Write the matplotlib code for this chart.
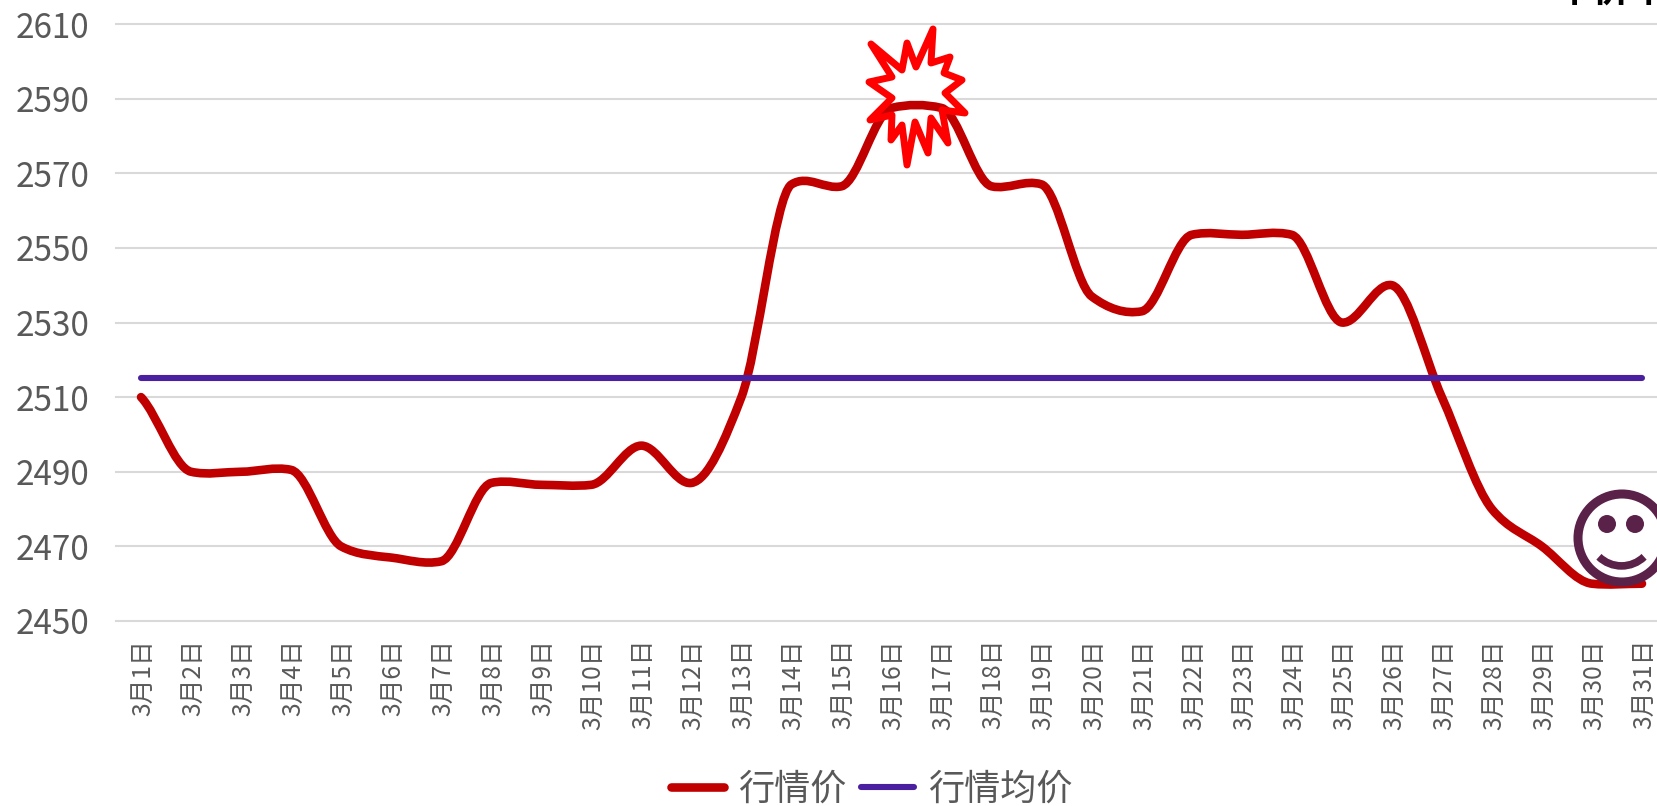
import numpy as np
import matplotlib
matplotlib.use('Agg')
import matplotlib.pyplot as plt
from matplotlib.path import Path
from matplotlib.patches import PathPatch, Polygon, Circle, Arc
from matplotlib.lines import Line2D
from matplotlib.transforms import ScaledTranslation

plt.rcParams['font.family'] = ['Noto Sans CJK SC', 'DejaVu Sans']

W, H = 1658, 806

days = ['3月%d日' % d for d in range(1, 32)]
price = [2510, 2490, 2490, 2490.5, 2470, 2467, 2466, 2487, 2486.5, 2486.5,
         2497, 2487, 2510, 2567, 2566.5, 2587.5, 2587.5, 2566.5, 2567, 2537,
         2533, 2553.5, 2553.5, 2553.5, 2530, 2540, 2510, 2480, 2470, 2460,
         2460]
mean_price = [2515] * 31
y_ticks = [2450, 2470, 2490, 2510, 2530, 2550, 2570, 2590, 2610]

# 手绘的爆炸形状 (像素坐标)
star_x = [871, 902, 907, 916, 933, 931, 950, 944, 962, 945, 965, 942, 948,
          931, 928, 915, 907, 902, 891, 892, 870, 892, 869, 892]
star_y = [44, 70, 43, 67, 29, 63, 57, 73, 80, 93, 113, 110, 143,
          118, 153, 122, 165, 125, 140, 115, 120, 98, 82, 77]

RED = '#C00000'
PURPLE = '#4B20A0'
GREY = '#595959'
PLUM = '#5A2149'


def px(x, y):
    return x / W, 1 - y / H


def smooth_path(xs, ys, blend=0.3):
    # 曲线平滑: 切线取 Catmull-Rom 与调和平均的混合, 平台段不会过冲
    pts = np.column_stack([xs, ys])
    d = np.diff(pts[:, 1])
    n = len(pts)
    m = np.zeros(n)
    m[0] = d[0] * 0.7
    m[-1] = d[-1] * 0.7
    for i in range(1, n - 1):
        harm = 0.0
        if d[i - 1] * d[i] > 0:
            harm = 2 * d[i - 1] * d[i] / (d[i - 1] + d[i])
        m[i] = blend * (d[i - 1] + d[i]) / 2 + (1 - blend) * harm
    verts = [pts[0]]
    codes = [Path.MOVETO]
    for i in range(n - 1):
        p1 = pts[i]
        p2 = pts[i + 1]
        verts += [p1 + [1 / 3, m[i] / 3], p2 - [1 / 3, m[i + 1] / 3], p2]
        codes += [Path.CURVE4] * 3
    return Path(verts, codes)


fig = plt.figure(figsize=(W / 100, H / 100), dpi=100)
left, bottom = px(116, 621)
right, top = px(1667, 24)
ax = fig.add_axes([left, bottom, right - left, top - bottom])

x = np.arange(len(days))
ax.set_xlim(-0.5, 30.5)
ax.set_ylim(2450, 2610)

for name in ax.spines:
    ax.spines[name].set_visible(False)

ax.set_yticks(y_ticks)
ax.set_xticks(x)
ax.set_xticklabels(days, rotation=90, fontsize=17.8, color=GREY, ha='center', va='top')
ax.tick_params(axis='x', length=0, pad=13)
ax.tick_params(axis='y', length=0, pad=19, labelsize=24, labelcolor=GREY)
nudge = ScaledTranslation(1.5 / 72, 0, fig.dpi_scale_trans)
for lab in ax.get_xticklabels():
    lab.set_transform(lab.get_transform() + nudge)
ax.grid(axis='y', color='#D9D9D9', linewidth=1.5, zorder=1)
ax.set_axisbelow(True)
for gl in ax.get_ygridlines():
    gl.set_clip_on(False)

fig_tf = fig.transFigure
star_pts = [px(a, b) for a, b in zip(star_x, star_y)]
ax.add_patch(Polygon(star_pts, closed=True, facecolor='white', edgecolor='none',
                     transform=fig_tf, zorder=3))

ax.add_patch(PathPatch(smooth_path(x, price), facecolor='none', edgecolor=RED,
                       linewidth=6.2, capstyle='round', joinstyle='round', zorder=4))
ax.plot(x, mean_price, color=PURPLE, linewidth=4.4, solid_capstyle='round', zorder=5)

ax.add_patch(Polygon(star_pts, closed=True, facecolor='none', edgecolor='#FF0000',
                     linewidth=5, joinstyle='round', transform=fig_tf, zorder=6,
                     clip_on=False))

# 笑脸 (像素坐标), 盖在价格线上面
overlay = fig.add_axes([0, 0, 1, 1], facecolor='none')
overlay.set_xlim(0, W)
overlay.set_ylim(H, 0)
overlay.axis('off')
overlay.add_patch(Circle((1622, 538), 44, facecolor='white', edgecolor=PLUM, linewidth=6.5))
overlay.add_patch(Circle((1607, 524), 9, facecolor=PLUM, edgecolor='none'))
overlay.add_patch(Circle((1635, 524), 9, facecolor=PLUM, edgecolor='none'))
overlay.add_patch(Arc((1621.5, 533.4), 65, 65, theta1=46, theta2=134, edgecolor=PLUM, linewidth=5.5))

# 右上角被裁掉的标题
fig.text(*px(1556, 2), '中价平', fontsize=27, fontweight='bold', color='black',
         ha='left', va='baseline')

handles = [Line2D([], [], color=RED, linewidth=6.2, solid_capstyle='round'),
           Line2D([], [], color=PURPLE, linewidth=4.4, solid_capstyle='round')]
cx, cy = px(872, 790)
fig.legend(handles, ['行情价', '行情均价'], loc='center', bbox_to_anchor=(cx, cy),
           ncol=2, frameon=False, fontsize=26, labelcolor=GREY, handlelength=1.47,
           handletextpad=0.39, columnspacing=0.39, borderpad=0, borderaxespad=0)

fig.savefig('out.png', dpi=100)
